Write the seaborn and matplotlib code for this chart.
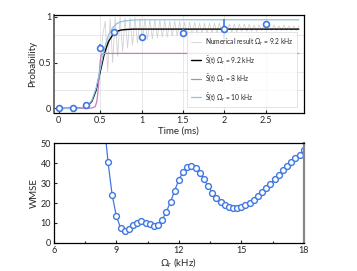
import numpy as np
import pandas as pd
import matplotlib
matplotlib.use("Agg")
import matplotlib.pyplot as plt
import seaborn as sns

sns.set_style("white")
plt.rcParams['font.family'] = ['Lato', 'DejaVu Sans']
plt.rcParams['mathtext.default'] = 'regular'

## donnees panneau du haut : probabilite en fonction du temps
exp_t = [0.0, 0.167, 0.333, 0.5, 0.667, 1.0, 1.5, 2.0, 2.5]
exp_p = [0.0, 0.0, 0.036, 0.655, 0.833, 0.78, 0.825, 0.87, 0.92]
exp_err = [0.0, 0.0, 0.03, 0.045, 0.02, 0.03, 0.04, 0.11, 0.0]

rise_t = [0.0, 0.2, 0.3, 0.35, 0.4, 0.45, 0.48]
rise_p = [0.0, 0.0, 0.005, 0.02, 0.07, 0.18, 0.30]
osc_p = [0.45, 0.80, 0.95, 0.40, 0.98, 0.50, 0.99, 0.57, 1.00, 0.62,
         0.99, 0.66, 0.99, 0.69, 0.99, 0.71, 0.98, 0.73, 0.98, 0.75,
         0.97, 0.76, 0.97, 0.77, 0.96, 0.78, 0.96, 0.78, 0.95, 0.79,
         0.95, 0.79, 0.95, 0.80, 0.94, 0.80, 0.94, 0.80, 0.94, 0.81,
         0.93, 0.81, 0.93, 0.81, 0.93, 0.82, 0.93, 0.82, 0.93, 0.82,
         0.92, 0.83, 0.92, 0.83, 0.92, 0.83, 0.92, 0.84, 0.92, 0.84,
         0.92, 0.84, 0.91, 0.84, 0.91, 0.85, 0.91, 0.85, 0.91, 0.85,
         0.91, 0.85, 0.90, 0.85, 0.91, 0.85, 0.90, 0.85, 0.90, 0.85,
         0.90]
osc_t = np.round(0.50 + 0.03 * np.arange(len(osc_p)), 3)

s92_t = [0.0, 0.2, 0.3, 0.35, 0.4, 0.45, 0.5, 0.55, 0.6, 0.65, 0.7, 0.75, 0.8, 0.9, 1.0, 2.9]
s92_p = [0.0, 0.002, 0.01, 0.03, 0.08, 0.2, 0.40, 0.60, 0.73, 0.80, 0.84, 0.855, 0.86, 0.865, 0.865, 0.865]
s10_t = [0.0, 0.2, 0.3, 0.35, 0.4, 0.45, 0.5, 0.55, 0.6, 0.65, 0.7, 0.75, 0.8, 0.9, 1.0, 2.9]
s10_p = [0.0, 0.002, 0.01, 0.03, 0.09, 0.22, 0.43, 0.65, 0.80, 0.88, 0.925, 0.945, 0.955, 0.964, 0.967, 0.967]
s8_t = [0.0, 0.35, 0.4, 0.44, 0.46, 0.48, 0.49, 0.50, 0.51, 0.52, 0.54, 2.9]
s8_p = [0.0, 0.0, 0.005, 0.02, 0.08, 0.25, 0.40, 0.52, 0.58, 0.595, 0.60, 0.60]

## donnees panneau du bas : WMSE en fonction de Omega_r
omega = [8.4, 8.6, 8.8, 9.0, 9.2, 9.4, 9.6, 9.8, 10.0, 10.2, 10.4, 10.6, 10.8, 11.0,
         11.2, 11.4, 11.6, 11.8, 12.0, 12.2, 12.4, 12.6, 12.8, 13.0, 13.2, 13.4,
         13.6, 13.8, 14.0, 14.2, 14.4, 14.6, 14.8, 15.0, 15.2, 15.4, 15.6, 15.8,
         16.0, 16.2, 16.4, 16.6, 16.8, 17.0, 17.2, 17.4, 17.6, 17.8, 18.0]
wmse = [62.0, 40.4, 23.8, 13.4, 7.5, 5.9, 6.9, 8.9, 10.2, 10.9, 10.2, 9.4, 8.7, 9.2,
        11.6, 15.6, 20.6, 26.3, 31.7, 35.7, 37.9, 38.6, 37.6, 35.2, 32.2, 28.5,
        25.2, 22.5, 20.3, 18.8, 17.8, 17.4, 17.4, 18.0, 18.8, 20.0, 21.6, 23.4,
        25.4, 27.6, 29.8, 32.0, 34.2, 36.4, 38.5, 40.5, 42.4, 44.3, 46.5]

blue = '#3f78e0'
gray_num = '#d2d2d2'
purple = '#c77dc4'
light_blue = '#8fc3e6'

fig = plt.figure(figsize=(3.57, 2.71), dpi=100)
ax1 = fig.add_axes([0.151, 0.583, 0.700, 0.362])
ax2 = fig.add_axes([0.151, 0.104, 0.700, 0.367])

## panneau du haut
for g in [0.5, 1.0, 1.5, 2.0, 2.5]:
    ax1.axvline(g, color='#e4e4e4', lw=0.6, zorder=0)
for g in [0.2, 0.4, 0.6, 0.8]:
    ax1.axhline(g, color='#e4e4e4', lw=0.6, zorder=0)

num_t = list(rise_t) + list(osc_t)
num_p = list(rise_p) + list(osc_p)
sns.lineplot(x=num_t, y=num_p, ax=ax1, color=gray_num, lw=0.6, sort=False,
             label='Numerical result Ω$_r$ = 9.2 kHz')
sns.lineplot(x=s92_t, y=s92_p, ax=ax1, color='black', lw=1.0,
             label=r'$\tilde{S}$(t) Ω$_r$ = 9.2 kHz')
sns.lineplot(x=s8_t, y=s8_p, ax=ax1, color=purple, lw=0.9,
             label=r'$\tilde{S}$(t) Ω$_r$ = 8 kHz')
sns.lineplot(x=s10_t, y=s10_p, ax=ax1, color=light_blue, lw=0.9,
             label=r'$\tilde{S}$(t) Ω$_r$ = 10 kHz')
ax1.errorbar(exp_t, exp_p, yerr=exp_err, fmt='o', ms=4.2, mfc='white', mec=blue,
             mew=1.2, ecolor=blue, elinewidth=1.2, capsize=0, zorder=5)

ax1.set_xlim(-0.06, 2.96)
ax1.set_ylim(-0.05, 1.02)
ax1.set_xticks([0, 0.5, 1, 1.5, 2, 2.5])
ax1.set_xticklabels(['0', '0.5', '1', '1.5', '2', '2.5'])
ax1.set_yticks([0, 0.5, 1])
ax1.set_yticklabels(['0', '0.5', '1'])
ax1.set_xlabel('Time (ms)', fontsize=7, labelpad=1)
ax1.set_ylabel('Probability', fontsize=7, labelpad=1)
ax1.tick_params(direction='in', length=2.5, width=0.8, labelsize=6.5, pad=2,
                bottom=True, left=True)
for sp in ax1.spines.values():
    sp.set_color('black')
    sp.set_linewidth(0.9)
ax1.spines['left'].set_color('#555555')
ax1.spines['left'].set_linewidth(1.2)
leg = ax1.legend(loc='lower right', fontsize=4.8, frameon=True, fancybox=False,
                 edgecolor='#d0d0d0', handlelength=1.5, handletextpad=0.6,
                 borderpad=0.6, labelspacing=1.0, bbox_to_anchor=(0.985, 0.03))
leg.get_frame().set_linewidth(0.5)

## panneau du bas
sns.lineplot(x=omega, y=wmse, ax=ax2, color=blue, lw=0.9, marker='o', ms=4.2,
             markerfacecolor='white', markeredgecolor=blue, markeredgewidth=1.0)
ax2.set_xlim(6, 18)
ax2.set_ylim(0, 50)
ax2.set_xticks([6, 9, 12, 15, 18])
ax2.set_xticks([7.5, 10.5, 13.5, 16.5], minor=True)
ax2.set_yticks([0, 10, 20, 30, 40, 50])
ax2.set_xlabel('Ω$_r$ (kHz)', fontsize=7, labelpad=1)
ax2.set_ylabel('WMSE', fontsize=7, labelpad=1)
ax2.tick_params(which='both', direction='in', width=0.8, labelsize=6.5, pad=2,
                bottom=True, left=True)
ax2.tick_params(which='major', length=2.5)
ax2.tick_params(which='minor', length=1.5)
for sp in ax2.spines.values():
    sp.set_color('black')
    sp.set_linewidth(0.9)
ax2.spines['right'].set_color('#888888')
ax2.spines['right'].set_linewidth(1.6)

fig.savefig('out.png', dpi=100)
